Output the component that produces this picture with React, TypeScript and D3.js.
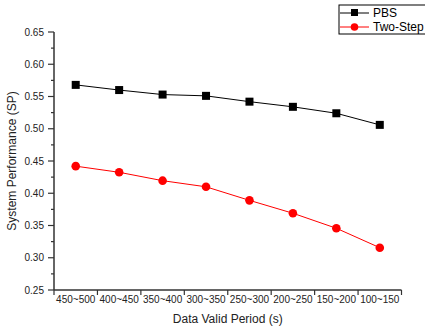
import React from "react";
import * as d3 from "d3";

const categories = ["450~500", "400~450", "350~400", "300~350", "250~300", "200~250", "150~200", "100~150"];
const pbs = [0.568, 0.56, 0.553, 0.551, 0.542, 0.534, 0.524, 0.506];
const twoStep = [0.442, 0.4325, 0.4195, 0.41, 0.389, 0.369, 0.3457, 0.3156];
const yTicks = [0.25, 0.3, 0.35, 0.4, 0.45, 0.5, 0.55, 0.6, 0.65];
const seriesNames = ["PBS", "Two-Step"];

export default function App() {
  const W = 425, H = 328;
  const left = 54, right = 401.5, top = 32, bottom = 290;
  const x = d3.scaleBand().domain(categories).range([left, right]);
  const y = d3.scaleLinear().domain([0.25, 0.65]).range([bottom, top]);
  const cx = (c: string) => (x(c) as number) + x.bandwidth() / 2;
  const line = d3.line<number>().x((_, i) => cx(categories[i])).y((d) => y(d));
  const minor = d3.range(0.275, 0.65, 0.05);
  const boundaries = d3.range(0, categories.length + 1).map((i) => left + i * x.bandwidth());
  const font = "Liberation Sans, Arial, sans-serif";
  const axisColor = "#333";
  return (
    <svg width={W} height={H} style={{ position: "absolute", left: 0, top: 0, background: "#fff" }} fontFamily={font}>
      {/* y axis */}
      <line x1={left} x2={left} y1={top} y2={bottom} stroke={axisColor} strokeWidth={1.5} />
      {yTicks.map((t) => (
        <g key={t}>
          <line x1={left - 6} x2={left} y1={y(t)} y2={y(t)} stroke={axisColor} strokeWidth={1.2} />
          <text x={left - 10} y={y(t)} dy="0.35em" textAnchor="end" fontSize={10} fill="#222">
            {t.toFixed(2)}
          </text>
        </g>
      ))}
      {minor.map((t) => (
        <line key={t} x1={left - 3} x2={left} y1={y(t)} y2={y(t)} stroke={axisColor} strokeWidth={1.2} />
      ))}
      {/* x axis */}
      <line x1={left} x2={right} y1={bottom} y2={bottom} stroke={axisColor} strokeWidth={1.5} />
      {boundaries.map((b, i) => (
        <line key={i} x1={b} x2={b} y1={bottom} y2={bottom + 5} stroke={axisColor} strokeWidth={1.2} />
      ))}
      {categories.map((c) => (
        <text key={c} x={cx(c)} y={303} textAnchor="middle" fontSize={10} fill="#222">
          {c}
        </text>
      ))}
      <text x={(left + right) / 2} y={323} textAnchor="middle" fontSize={12} fill="#222">
        Data Valid Period (s)
      </text>
      <text transform={`translate(16,${(top + bottom) / 2}) rotate(-90)`} textAnchor="middle" fontSize={12} fill="#222">
        System Performance (SP)
      </text>
      {/* series */}
      <path d={line(pbs) || ""} fill="none" stroke="#000" strokeWidth={1} />
      {pbs.map((v, i) => (
        <rect key={i} x={cx(categories[i]) - 4} y={y(v) - 4} width={8} height={8} fill="#000" />
      ))}
      <path d={line(twoStep) || ""} fill="none" stroke="#f00" strokeWidth={1} />
      {twoStep.map((v, i) => (
        <circle key={i} cx={cx(categories[i])} cy={y(v)} r={4.3} fill="#f00" />
      ))}
      {/* legend */}
      <rect x={339} y={5} width={100} height={29} fill="#fff" stroke="#000" strokeWidth={1} />
      <line x1={340} x2={369} y1={13} y2={13} stroke="#000" strokeWidth={1} />
      <rect x={351} y={9} width={7} height={7} fill="#000" />
      <text x={373} y={13} dy="0.35em" fontSize={12} fill="#000">{seriesNames[0]}</text>
      <line x1={340} x2={369} y1={27} y2={27} stroke="#f00" strokeWidth={1} />
      <circle cx={354.5} cy={27} r={3.8} fill="#f00" />
      <text x={373} y={27} dy="0.35em" fontSize={12} fill="#000">{seriesNames[1]}</text>
    </svg>
  );
}
